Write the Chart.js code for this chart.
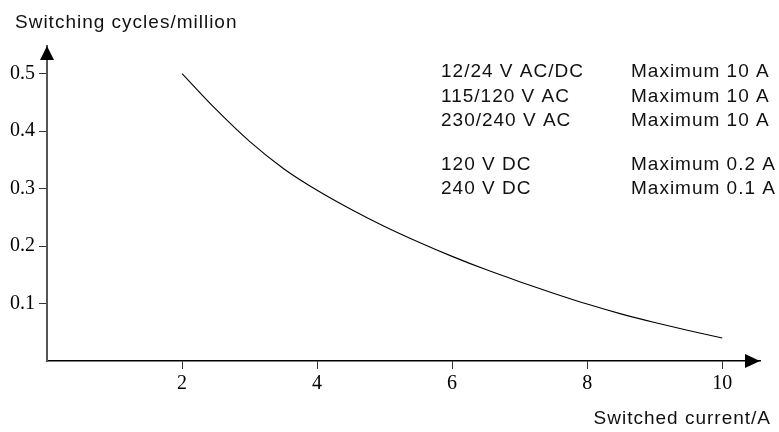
<!DOCTYPE html>
<html>
<head>
<meta charset="utf-8">
<script src="https://cdn.jsdelivr.net/npm/chart.js@4.4.1/dist/chart.umd.min.js"></script>
<style>
  body { margin: 0; background: #fff; }
  #wrap { width: 779px; height: 432px; }
</style>
</head>
<body>
<div id="wrap"><canvas id="myChart" width="779" height="432"></canvas></div>
<script>
// values
var currentA = [2, 2.5, 3, 3.5, 4, 4.5, 5, 5.5, 6, 6.5, 7, 7.5, 8, 8.5, 9, 9.5, 10];
var cyclesMillion = [0.500, 0.438, 0.382, 0.335, 0.297, 0.264, 0.234, 0.207, 0.182, 0.159, 0.138, 0.118, 0.099, 0.082, 0.067, 0.053, 0.040];
var xTicks = [2, 4, 6, 8, 10];
var yTicks = [0.1, 0.2, 0.3, 0.4, 0.5];
var voltages = ['12/24 V AC/DC', '115/120 V AC', '230/240 V AC', '120 V DC', '240 V DC'];
var maxCurrents = ['Maximum 10 A', 'Maximum 10 A', 'Maximum 10 A', 'Maximum 0.2 A', 'Maximum 0.1 A'];
var yTitle = 'Switching cycles/million';
var xTitle = 'Switched current/A';

var sansFont = '19px "Liberation Sans", Arial, sans-serif';
var serifFont = { family: '"Liberation Serif", "Times New Roman", serif', size: 20 };

const textPlugin = {
    id: 'textAndArrows',
    afterDraw(chart) {
        const ctx = chart.ctx;
        const a = chart.chartArea;
        ctx.save();
        // arrow heads
        ctx.fillStyle = '#000';
        ctx.beginPath();
        ctx.moveTo(a.left, a.top);
        ctx.lineTo(a.left - 7, a.top + 14);
        ctx.lineTo(a.left + 7, a.top + 14);
        ctx.closePath();
        ctx.fill();
        ctx.beginPath();
        ctx.moveTo(a.right, a.bottom);
        ctx.lineTo(a.right - 15, a.bottom - 7);
        ctx.lineTo(a.right - 15, a.bottom + 7);
        ctx.closePath();
        ctx.fill();

        ctx.font = sansFont;
        ctx.letterSpacing = '1px';
        ctx.fillStyle = '#111';
        ctx.textBaseline = 'alphabetic';
        ctx.textAlign = 'left';
        ctx.fillText(yTitle, 15, 28);
        ctx.textAlign = 'right';
        ctx.fillText(xTitle, 771, 424);

        var baselines = [77, 101.5, 126, 169.5, 193.5];
        ctx.textAlign = 'left';
        for (var i = 0; i < voltages.length; i++) {
            ctx.fillText(voltages[i], 441, baselines[i]);
            ctx.fillText(maxCurrents[i], 631, baselines[i]);
        }
        ctx.restore();
    }
};

const ctx = document.getElementById('myChart').getContext('2d');
const chart = new Chart(ctx, {
    type: 'line',
    data: {
        datasets: [{
            data: currentA.map(function (x, i) { return { x: x, y: cyclesMillion[i] }; }),
            borderColor: '#000',
            borderWidth: 1.1,
            pointRadius: 0,
            cubicInterpolationMode: 'monotone',
            fill: false
        }]
    },
    options: {
        responsive: false,
        animation: false,
        layout: { padding: { top: 46, right: 19, left: 0, bottom: 0 } },
        plugins: {
            legend: { display: false },
            tooltip: { enabled: false }
        },
        scales: {
            x: {
                type: 'linear',
                min: 0,
                max: 10.56,
                afterBuildTicks: function (s) { s.ticks = xTicks.map(function (v) { return { value: v }; }); },
                afterFit: function (s) { s.height = 71; },
                ticks: {
                    color: '#000',
                    font: serifFont,
                    padding: 3,
                    maxRotation: 0,
                    callback: function (v) { return String(v); }
                },
                grid: { drawOnChartArea: false, drawTicks: true, tickLength: 8, color: '#333' },
                border: { display: true, color: '#000', width: 1.5 }
            },
            y: {
                type: 'linear',
                min: 0,
                max: 0.548,
                afterBuildTicks: function (s) { s.ticks = yTicks.map(function (v) { return { value: v }; }); },
                afterFit: function (s) { s.width = 47; },
                ticks: {
                    color: '#000',
                    font: serifFont,
                    padding: 4,
                    callback: function (v) { return v.toFixed(1); }
                },
                grid: { drawOnChartArea: false, drawTicks: true, tickLength: 8, color: '#333' },
                border: { display: true, color: '#555', width: 2 }
            }
        }
    },
    plugins: [textPlugin]
});
</script>
</body>
</html>
